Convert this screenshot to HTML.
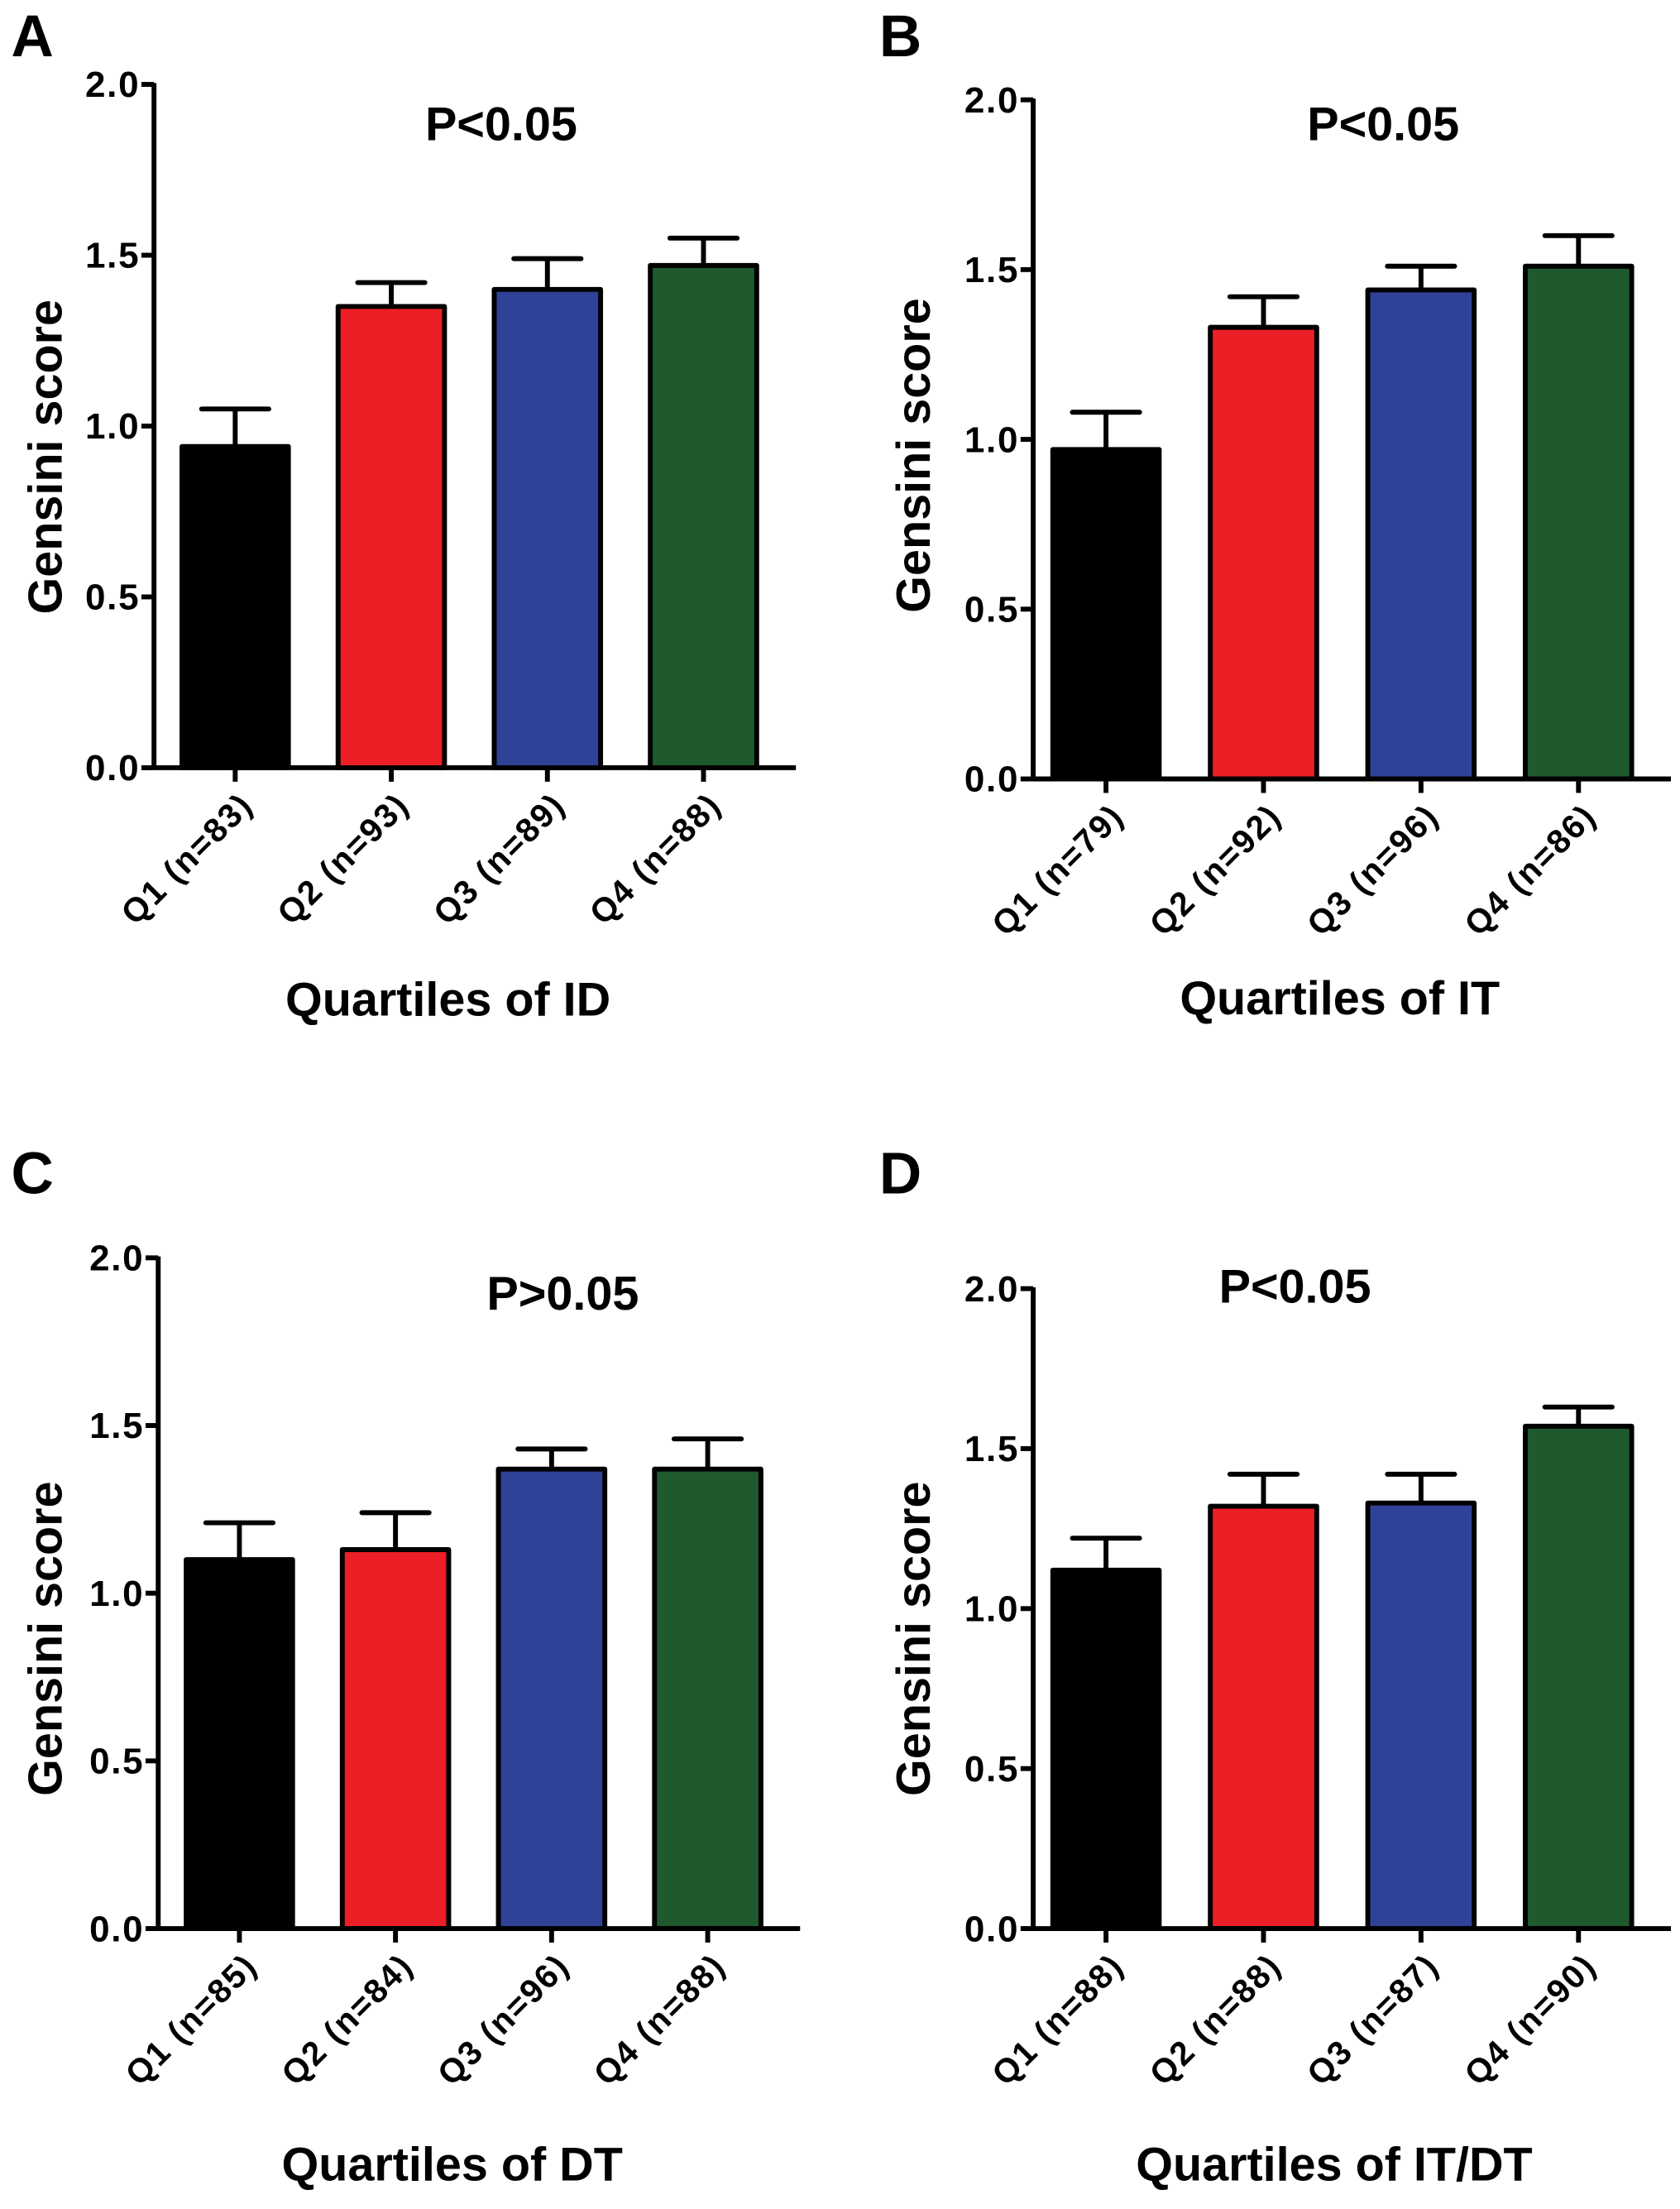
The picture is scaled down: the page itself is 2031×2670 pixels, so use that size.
<!DOCTYPE html>
<html><head><meta charset="utf-8"><style>
html,body{margin:0;padding:0;background:#fff;}
svg{display:block;font-family:"Liberation Sans",Arial,sans-serif;font-weight:bold;}
</style></head>
<body>
<svg id="fig" width="2031" height="2670" viewBox="0 0 1200 1577" xmlns="http://www.w3.org/2000/svg"></svg>
<script>
const panelLetters = ["A","B","C","D"];
const pTexts = ["P<0.05","P<0.05","P>0.05","P<0.05"];
const xTitles = ["Quartiles of ID","Quartiles of IT","Quartiles of DT","Quartiles of IT/DT"];
const catsA = ["Q1 (n=83)","Q2 (n=93)","Q3 (n=89)","Q4 (n=88)"];
const catsB = ["Q1 (n=79)","Q2 (n=92)","Q3 (n=96)","Q4 (n=86)"];
const catsC = ["Q1 (n=85)","Q2 (n=84)","Q3 (n=96)","Q4 (n=88)"];
const catsD = ["Q1 (n=88)","Q2 (n=88)","Q3 (n=87)","Q4 (n=90)"];
const meansA = [0.94,1.35,1.40,1.47];
const errA = [1.05,1.42,1.49,1.55];
const meansB = [0.97,1.33,1.44,1.51];
const errB = [1.08,1.42,1.51,1.60];
const meansC = [1.10,1.13,1.37,1.37];
const errC = [1.21,1.24,1.43,1.46];
const meansD = [1.12,1.32,1.33,1.57];
const errD = [1.22,1.42,1.42,1.63];
const yTicks = [0,0.5,1.0,1.5,2.0];
const yTickLabels = ["0.0","0.5","1.0","1.5","2.0"];
const colors = ["#000000","#ec1f26","#2f4298","#1e5a2d"];

const layout = [
  {ax:110, y0:548, y1:60, bx:130, step:111.5, lx:8, ly:40, px:358, py:100, tx:320, ty:725, yt:35, yc:326},
  {ax:738, y0:556, y1:71, bx:752, step:112.5, lx:628, ly:40, px:988, py:100, tx:957, ty:724, yt:655, yc:325},
  {ax:113, y0:1377, y1:898, bx:133, step:111.5, lx:8, ly:852, px:402, py:935, tx:323, ty:1557, yt:35, yc:1170},
  {ax:738, y0:1377, y1:920, bx:752, step:112.5, lx:628, ly:852, px:925, py:930, tx:953, ty:1557, yt:655, yc:1170}
];
const allCats = [catsA,catsB,catsC,catsD];
const allMeans = [meansA,meansB,meansC,meansD];
const allErr = [errA,errB,errC,errD];
const svg = document.getElementById('fig');
const NS = "http://www.w3.org/2000/svg";
function mk(tag, attrs, parent){
  const e = document.createElementNS(NS, tag);
  for (const k in attrs) e.setAttribute(k, attrs[k]);
  (parent||svg).appendChild(e);
  return e;
}
layout.forEach((L, p) => {
  const g = mk('g', {});
  
  
  const yScale = v => L.y0 - (v / 2.0) * (L.y0 - L.y1);
  const bw = 76;
  const xCenter = i => L.bx + bw/2 + i*L.step;
  const xEnd = xCenter(3) + bw/2 + 28;
  const lt = mk('text', {x:L.lx, y:L.ly, 'font-size':42}, g);
  lt.textContent = panelLetters[p];
  
  
  allMeans[p].forEach((m, i) => {
    const cx = xCenter(i);
    const e = allErr[p][i];
    const el = mk('line', {x1:cx, x2:cx, y1:yScale(m), y2:yScale(e), stroke:'#000', 'stroke-width':3.5}, g);
    
    
    const cap = mk('line', {x1:cx-24, x2:cx+24, y1:yScale(e), y2:yScale(e), stroke:'#000', 'stroke-width':3.5, 'stroke-linecap':'round'}, g);
    
    
    const r = mk('rect', {x:cx-bw/2, y:yScale(m), width:bw, height:yScale(0)-yScale(m), fill:colors[i], stroke:'#000', 'stroke-width':3.5, 'stroke-linejoin':'round'}, g);
    
    
    const tk = mk('line', {x1:cx, x2:cx, y1:L.y0, y2:L.y0+10, stroke:'#000', 'stroke-width':3.5}, g);
    
    
    const ax = cx+14, ay = L.y0+28;
    const cl = mk('text', {x:ax, y:ay, 'font-size':24, 'letter-spacing':1.2, 'text-anchor':'end', transform:'rotate(-45 '+ax+' '+ay+')'}, g);
    cl.textContent = allCats[p][i];
    
    
  });
  const ya = mk('line', {x1:L.ax, x2:L.ax, y1:L.y1-1, y2:L.y0+1.5, stroke:'#000', 'stroke-width':3.5}, g);
  
  
  const xa = mk('line', {x1:L.ax, x2:xEnd, y1:L.y0, y2:L.y0, stroke:'#000', 'stroke-width':3.5}, g);
  
  
  yTicks.forEach((v, k) => {
    const y = yScale(v);
    const t = mk('line', {x1:L.ax-9, x2:L.ax, y1:y, y2:y, stroke:'#000', 'stroke-width':3.5}, g);
    
    
    const tl = mk('text', {x:L.ax-10, y:y+9, 'font-size':26, 'letter-spacing':1, 'text-anchor':'end'}, g);
    tl.textContent = yTickLabels[k];
    
    
  });
  const yc = L.yc;
  const yt = mk('text', {x:L.yt, y:yc, 'font-size':34, 'text-anchor':'middle', transform:'rotate(-90 '+L.yt+' '+yc+')', 'dominant-baseline':'middle'}, g);
  yt.textContent = 'Gensini score';
  
  
  const pt = mk('text', {x:L.px, y:L.py, 'font-size':34, 'text-anchor':'middle'}, g);
  pt.textContent = pTexts[p];
  
  
  const xt = mk('text', {x:L.tx, y:L.ty, 'font-size':34, 'text-anchor':'middle'}, g);
  xt.textContent = xTitles[p];
  
  
});
</script>
</body></html>
